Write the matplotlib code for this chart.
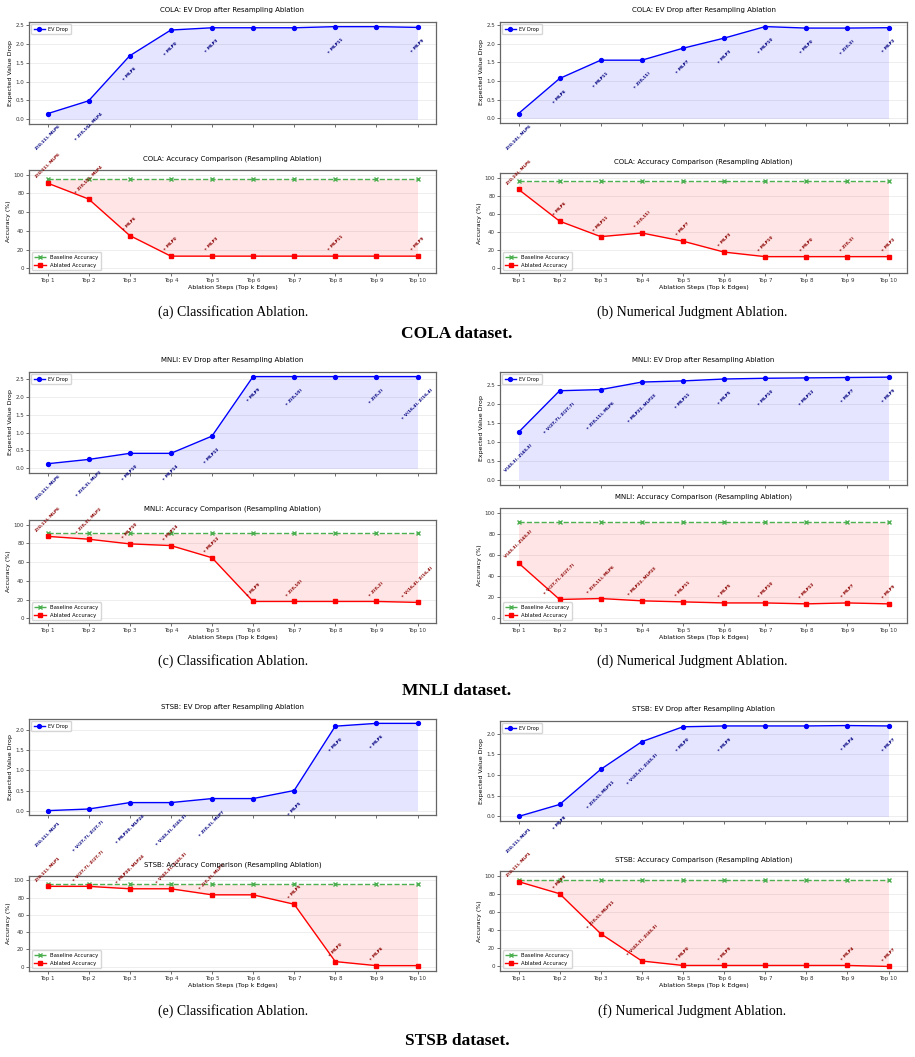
import matplotlib
matplotlib.use("Agg")
import matplotlib.pyplot as plt

steps = [f"Top {i}" for i in range(1, 11)]
xs = list(range(1, 11))

# COLA, classification
cola_cls_ev = [0.15, 0.49, 1.68, 2.36, 2.42, 2.42, 2.42, 2.45, 2.45, 2.43]
cola_cls_acc = [91, 74, 35, 13, 13, 13, 13, 13, 13, 13]
cola_cls_base = 95.5
cola_cls_labels = ["Z(0,11), MLP6", "+ Z(0,10), MLP4", "+ MLP6", "+ MLP0", "+ MLP3",
                   "", "", "+ MLP11", "", "+ MLP9"]

# COLA, numerical judgment
cola_num_ev = [0.13, 1.07, 1.56, 1.56, 1.88, 2.15, 2.46, 2.42, 2.42, 2.43]
cola_num_acc = [87, 52, 35, 39, 30, 18, 13, 13, 13, 13]
cola_num_base = 95.7
cola_num_labels = ["Z(0,10), MLP6", "+ MLP6", "+ MLP11", "+ Z(0,11)", "+ MLP7",
                   "+ MLP3", "+ MLP10", "+ MLP0", "+ Z(0,3)", "+ MLP2"]

# MNLI, classification
mnli_cls_ev = [0.13, 0.25, 0.42, 0.42, 0.90, 2.56, 2.56, 2.56, 2.56, 2.56]
mnli_cls_acc = [87.5, 84.5, 79.5, 77.7, 64.7, 18, 18, 18, 18, 17]
mnli_cls_base = 90.6
mnli_cls_labels = ["Z(0,11), MLP6", "+ Z(0,3), MLP2", "+ MLP10", "+ MLP14", "+ MLP12",
                   "+ MLP9", "+ Z(0,10)", "", "+ Z(0,2)", "+ V(16,4), Z(16,4)"]

# MNLI, numerical judgment
mnli_num_ev = [1.26, 2.36, 2.39, 2.59, 2.62, 2.67, 2.69, 2.70, 2.71, 2.72]
mnli_num_acc = [52.4, 17.5, 18.4, 16.2, 15.2, 14.2, 14.2, 13.3, 14.2, 13.3]
mnli_num_base = 91.3
mnli_num_labels = ["V(43,3), Z(43,3)", "+ V(27,7), Z(27,7)", "+ Z(0,11), MLP6",
                   "+ MLP22, MLP23", "+ MLP11", "+ MLP5", "+ MLP10", "+ MLP12",
                   "+ MLP7", "+ MLP9"]

# STSB, classification
stsb_cls_ev = [0.0, 0.04, 0.20, 0.20, 0.30, 0.30, 0.50, 2.10, 2.17, 2.17]
stsb_cls_acc = [93, 93, 90.2, 90.2, 83.2, 83.2, 72.3, 5.9, 1.2, 1.2]
stsb_cls_base = 95.3
stsb_cls_labels = ["Z(0,11), MLP1", "+ V(27,7), Z(27,7)", "+ MLP20, MLP24",
                   "+ V(43,3), Z(43,3)", "+ Z(0,3), MLP7", "", "+ MLP5", "+ MLP0",
                   "+ MLP6", ""]

# STSB, numerical judgment
stsb_num_ev = [0.0, 0.29, 1.14, 1.81, 2.17, 2.19, 2.19, 2.19, 2.20, 2.19]
stsb_num_acc = [93.3, 80, 36, 6, 1.1, 1.1, 1.1, 1.1, 1.1, 0.0]
stsb_num_base = 95.5
stsb_num_labels = ["Z(0,11), MLP1", "+ MLP8", "+ Z(0,5), MLP11", "+ V(43,3), Z(43,3)",
                   "+ MLP0", "+ MLP9", "", "", "+ MLP4", "+ MLP7"]

W, H = 915, 1057
fig = plt.figure(figsize=(W / 100, H / 100), dpi=100)


def box(x0, y0, x1, y1):
    # pixel box (top-left origin) -> figure fraction
    return [x0 / W, 1 - y1 / H, (x1 - x0) / W, (y1 - y0) / H]


def style(ax):
    for s in ax.spines.values():
        s.set_color("#666666")
        s.set_linewidth(0.9)
    ax.tick_params(labelsize=4, length=2, width=0.5, pad=1.5, colors="#333333")
    ax.grid(axis="y", color="#dddddd", linewidth=0.5, alpha=0.7)
    ax.set_axisbelow(True)


def ev_plot(ax, name, ev, labels):
    ax.plot(xs, ev, "o-", color="blue", lw=1.0, ms=2.8, label="EV Drop")
    ax.fill_between(xs, 0, ev, color="blue", alpha=0.1, lw=0)
    for x, y, t in zip(xs, ev, labels):
        if t:
            ax.annotate(t, (x, y), xytext=(0, -8), textcoords="offset points",
                        ha="center", va="top", rotation=45, fontsize=3.0,
                        color="navy", fontweight="bold")
    ax.set_xticks(xs)
    ax.set_xticklabels([""] * len(xs))
    ax.set_ylabel("Expected Value Drop", fontsize=4.5, labelpad=2)
    ax.set_title(f"{name}: EV Drop after Resampling Ablation", fontsize=5, pad=7)
    ax.legend(loc="upper left", fontsize=3.5, frameon=True, handlelength=2.2,
              borderpad=0.5)
    style(ax)


def acc_plot(ax, name, acc, base, labels):
    basel = [base] * len(xs)
    ax.plot(xs, basel, "x--", color="#4caf50", lw=1.0, ms=2.5, label="Baseline Accuracy")
    ax.plot(xs, acc, "s-", color="red", lw=1.0, ms=2.8, label="Ablated Accuracy")
    ax.fill_between(xs, acc, basel, color="red", alpha=0.1, lw=0)
    for x, y, t in zip(xs, acc, labels):
        if t:
            ax.annotate(t, (x, y), xytext=(0, 3), textcoords="offset points",
                        ha="center", va="bottom", rotation=45, fontsize=3.0,
                        color="darkred", fontweight="bold")
    ax.set_xticks(xs)
    ax.set_xticklabels(steps)
    ax.set_ylim(-5, 105)
    ax.set_ylabel("Accuracy (%)", fontsize=4.5, labelpad=2)
    ax.set_xlabel("Ablation Steps (Top k Edges)", fontsize=4.5, labelpad=1.5)
    ax.set_title(f"{name}: Accuracy Comparison (Resampling Ablation)", fontsize=5, pad=7)
    ax.legend(loc="lower left", fontsize=3.8, frameon=True, handlelength=2.2,
              borderpad=0.5)
    style(ax)


panels = [
    ("COLA", cola_cls_ev, cola_cls_acc, cola_cls_base, cola_cls_labels,
     (29, 22, 436, 124), (29, 170, 436, 273)),
    ("COLA", cola_num_ev, cola_num_acc, cola_num_base, cola_num_labels,
     (500, 22, 907, 123), (500, 173, 907, 273)),
    ("MNLI", mnli_cls_ev, mnli_cls_acc, mnli_cls_base, mnli_cls_labels,
     (29, 372, 436, 473), (29, 520, 436, 623)),
    ("MNLI", mnli_num_ev, mnli_num_acc, mnli_num_base, mnli_num_labels,
     (500, 372, 907, 485), (500, 508, 907, 623)),
    ("STSB", stsb_cls_ev, stsb_cls_acc, stsb_cls_base, stsb_cls_labels,
     (29, 719, 436, 815), (29, 876, 436, 971)),
    ("STSB", stsb_num_ev, stsb_num_acc, stsb_num_base, stsb_num_labels,
     (500, 721, 907, 821), (500, 871, 907, 971)),
]

for name, ev, acc, base, labels, evbox, accbox in panels:
    ax1 = fig.add_axes(box(*evbox))
    ev_plot(ax1, name, ev, labels)
    ax2 = fig.add_axes(box(*accbox))
    acc_plot(ax2, name, acc, base, labels)

captions = [
    ("(a) Classification Ablation.", 233, 312),
    ("(b) Numerical Judgment Ablation.", 692, 312),
    ("(c) Classification Ablation.", 233, 661),
    ("(d) Numerical Judgment Ablation.", 692, 661),
    ("(e) Classification Ablation.", 233, 1011),
    ("(f) Numerical Judgment Ablation.", 692, 1011),
]
for t, x, y in captions:
    fig.text(x / W, 1 - y / H, t, ha="center", va="center",
             family="Liberation Serif", fontsize=10)

headings = [("COLA dataset.", 334), ("MNLI dataset.", 691), ("STSB dataset.", 1041)]
for t, y in headings:
    fig.text(457 / W, 1 - y / H, t, ha="center", va="center",
             family="Liberation Serif", fontsize=12.5, fontweight="bold")

fig.savefig("out.png", dpi=100)
